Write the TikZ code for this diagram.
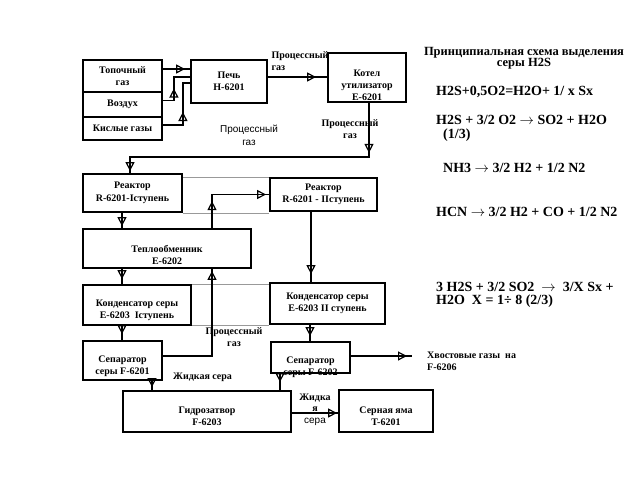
\documentclass[tikz,border=0pt]{standalone}
\usepackage{fontspec}
\setmainfont{Liberation Serif}
\setsansfont{Liberation Sans}
\usetikzlibrary{arrows.meta,decorations.markings,positioning}
\tikzstyle{l1}=[line width=1.8pt]
\tikzstyle{gl}=[line width=0.8pt, draw=black!40]
\tikzstyle{blk}=[rectangle, draw=black, l1, inner sep=2pt, align=center, font=\bfseries\fontsize{10}{12.5}\selectfont]
\tikzstyle{lbl}=[align=center, inner sep=1pt, font=\bfseries\fontsize{10}{12}\selectfont]
\tikzstyle{slbl}=[align=center, inner sep=1pt, font=\sffamily\fontsize{10}{13}\selectfont]
\tikzstyle{eq}=[anchor=west, align=left, inner sep=0pt, font=\bfseries\fontsize{14}{13.5}\selectfont]
\newcommand{\ra}{$\rightarrow$}
\tikzset{
  otri/.tip={Triangle[open, length=9pt, width=9pt, line width=1.2pt]},
  tipat/.style={postaction={decorate, decoration={markings, mark=at position #1 with {\arrow{otri}}}}},
  flow/.style={l1, tipat=-#1},
  flow/.default=5pt
}

\begin{document}
\begin{tikzpicture}[x=1pt, y=-1pt]
    \useasboundingbox (0,0) rectangle (640,480);

    % left column of inputs and the furnace
    \node[blk, minimum width=79pt, minimum height=32pt] (tg) at (122.5,76) {Топочный\\газ};
    \node[blk, minimum width=79pt, minimum height=25pt] (vz) at (122.5,104.5) {Воздух};
    \node[blk, minimum width=79pt, minimum height=23pt] (kg) at (122.5,128.5) {Кислые газы};
    \node[blk, minimum width=76pt, minimum height=43pt] (pech) at (229,81.5) {Печь\\H-6201};
    \node[blk, minimum width=78pt, minimum height=49pt,
          label={[lbl, yshift=-7.5pt]center:{Котел\\утилизатор\\E-6201}}] (kot) at (367,77.5) {};

    % reactors and heat exchanger
    \node[blk, minimum width=99pt, minimum height=38pt] (r1) at (132.5,193) {Реактор\\R-6201-Iступень};
    \node[blk, minimum width=107pt, minimum height=33pt] (r2) at (323.5,194.5) {Реактор\\R-6201 - IIступень};
    \node[blk, minimum width=168pt, minimum height=39pt,
          label={[lbl, yshift=-6pt]center:{Теплообменник\\E-6202}}] (te) at (167,248.5) {};

    % condensers and separators
    \node[blk, minimum width=108pt, minimum height=40pt,
          label={[lbl, yshift=-5pt]center:{Конденсатор серы\\E-6203\ \ Iступень}}] (k1) at (137,305) {};
    \node[blk, minimum width=115pt, minimum height=41pt] (k2) at (327.5,303.5) {Конденсатор серы\\E-6203 II ступень};
    \node[blk, minimum width=79pt, minimum height=39pt,
          label={[lbl, yshift=-6pt]center:{Сепаратор\\серы F-6201}}] (s1) at (122.5,360.5) {};
    \node[blk, minimum width=79pt, minimum height=31pt,
          label={[lbl, yshift=-10pt]center:{Сепаратор\\серы F-6202}}] (s2) at (310.5,357.5) {};
    \node[blk, minimum width=168pt, minimum height=41pt,
          label={[lbl, yshift=-5pt]center:{Гидрозатвор\\F-6203}}] (gz) at (207,411.5) {};
    \node[blk, minimum width=94pt, minimum height=42pt,
          label={[lbl, yshift=-5pt]center:{Серная яма\\T-6201}}] (ya) at (386,411) {};
    \coordinate (tail) at (412,356);

    % thin grey links
    \draw[gl] (r1.east |- r2.north) -- (r2.north west);
    \draw[gl] (r1.south east) -- (r1.south east -| r2.west);
    \draw[gl] (k1.north east) -- (k1.north east -| k2.west);
    \draw[gl] (k2.south west) -- (k2.south west -| k1.east);

    % flows
    \draw[flow] ([yshift=7pt]tg.east) -- ([yshift=7pt]tg.east -| pech.west);
    \draw[l1, tipat=23pt] ([yshift=4pt]vz.east) -- ++(11,0) |- ([yshift=4.5pt]pech.west);
    \draw[l1, tipat=33pt] ([yshift=3.5pt]kg.east) -- ++(20,0) |- ([yshift=-1.5pt]pech.west);
    \draw[flow=11pt] ([yshift=4.5pt]pech.east) -- ([yshift=4.5pt]pech.east -| kot.west);
    \draw[l1, tipat=50pt, tipat=-2pt] ([xshift=2pt]kot.south) -- ++(0,54) -| ([xshift=-2.5pt]r1.north);
    \draw[flow=2pt] ([xshift=-10.5pt]r1.south) -- ([xshift=-10.5pt]r1.south |- te.north);
    \draw[l1, tipat=27pt, tipat=-3pt] ([xshift=45pt]te.north) |- (r2.west);
    \draw[flow=8pt] ([xshift=-12.5pt]r2.south) -- ([xshift=-12.5pt]r2.south |- k2.north);
    \draw[flow=5pt] ([xshift=-45pt]te.south) -- ([xshift=-45pt]te.south |- k1.north);
    \draw[flow=2pt] ([yshift=4.5pt]s1.east) -| ([xshift=45pt]te.south);
    \draw[flow=6pt] ([xshift=-15pt]k1.south) -- ([xshift=-15pt]k1.south |- s1.north);
    \draw[flow=5pt] ([xshift=-17.5pt]k2.south) -- ([xshift=-17.5pt]k2.south |- s2.north);
    \draw[flow=5pt] ([yshift=1.5pt]s2.east) -- (tail);
    \draw[flow=3pt] ([xshift=29.5pt]s1.south) -- ([xshift=29.5pt]s1.south |- gz.north);
    \draw[flow=8pt] ([xshift=-30.5pt]s2.south) -- ([xshift=-30.5pt]s2.south |- gz.north);
    \draw[flow=1pt] ([yshift=-1.5pt]gz.east) -- ([yshift=-1.5pt]gz.east -| ya.west);

    % stream labels
    \node[lbl, align=left] (pg1) at (300,61) {Процессный\\газ};
    \node[lbl] (pg2) at (350,129) {Процессный\\газ};
    \node[slbl] (pg3) at (249,135) {Процессный\\газ};
    \node[lbl] (pg4) at (234,337) {Процессный\\газ};
    \node[lbl, anchor=west] (zs1) at (172,377) {Жидкая сера};
    \node[lbl, font=\bfseries\fontsize{10}{11.5}\selectfont] (zs2) at (315,409.5) {Жидка\\я\\{\sffamily\mdseries сера}};
    \node[lbl, align=left, anchor=west] (hv) at (426,361) {Хвостовые газы\ \ на\\F-6206};

    % reactions
    \node[align=center, font=\bfseries\fontsize{12.5}{11}\selectfont] (ttl) at (524,58.5) {Принципиальная схема выделения\\серы H2S};
    \node[eq] (e1) at (436,92) {H2S+0,5O2=H2O+ 1/ x Sx};
    \node[eq] (e2) at (436,128.5) {H2S + 3/2 O2 \ra{} SO2 + H2O\\\hspace{7pt}(1/3)};
    \node[eq] (e3) at (443,168) {NH3 \ra{} 3/2 H2 + 1/2 N2};
    \node[eq] (e4) at (436,212) {HCN \ra{} 3/2 H2 + CO + 1/2 N2};
    \node[eq] (e5) at (436,295) {3 H2S + 3/2 SO2 \ \ra{} \ 3/X Sx +\\H2O \ X = 1÷ 8 (2/3)};
\end{tikzpicture}
\end{document}
